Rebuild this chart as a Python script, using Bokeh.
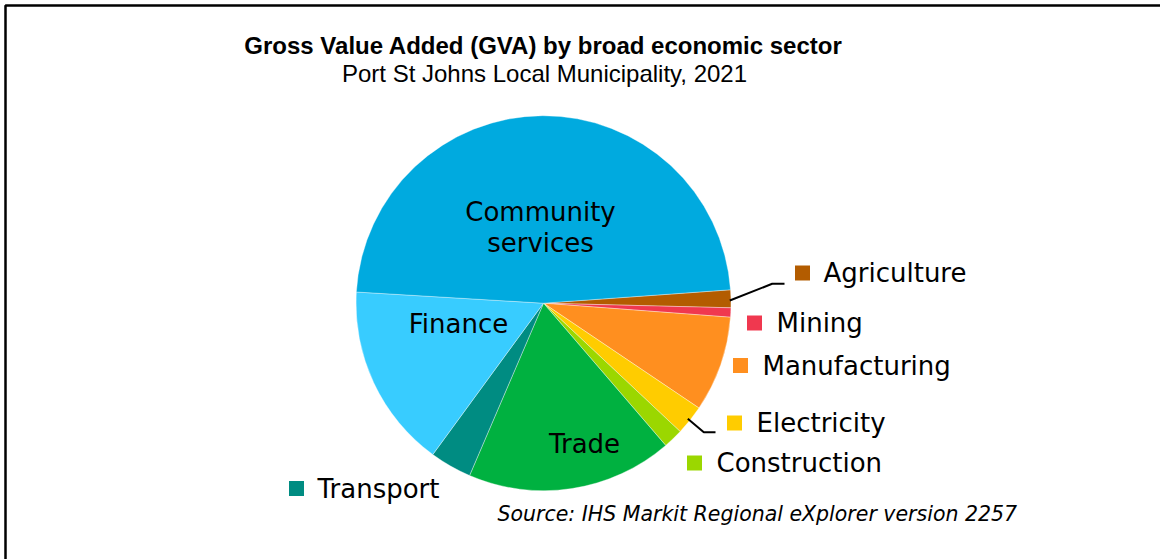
import numpy as np
from bokeh.plotting import figure
from bokeh.models import Range1d, ColumnDataSource
from bokeh.core.properties import value
from bokeh.embed import file_html
from bokeh.resources import INLINE

# ---- data (GVA share, %) ----
sectors = ["Agriculture", "Mining", "Manufacturing", "Electricity", "Construction",
           "Trade", "Transport", "Finance", "Community services"]
shares = [1.53, 0.80, 8.25, 2.56, 1.70, 17.75, 3.60, 15.90, 47.91]
colors = ["#B35C00", "#F0384F", "#FF8F1F", "#FFCC00", "#9BD700",
          "#00B140", "#008C82", "#38CCFF", "#00AADF"]

title_text = "Gross Value Added (GVA) by broad economic sector"
subtitle_text = "Port St Johns Local Municipality, 2021"
source_text = "Source: IHS Markit Regional eXplorer version 2257"

# ---- layout (page pixel space, y measured from the top) ----
W, H = 1160, 559
PAGE_H = 559
def Y(py):
    return PAGE_H - py

cx, cy, r = 543.0, Y(302.7), 187.5
start_deg = 4.1

p = figure(width=W, height=H, x_range=Range1d(0, W), y_range=Range1d(PAGE_H - H, PAGE_H),
           output_backend="svg", toolbar_location=None, min_border=0,
           x_axis_type=None, y_axis_type=None)
p.grid.visible = False
p.outline_line_color = None
p.background_fill_color = "white"
p.border_fill_color = "white"

# wedges (clockwise from start angle)
frac = np.array(shares) / np.sum(shares)
cum = np.cumsum(frac)
a0 = np.deg2rad(start_deg)
ends = a0 - 2 * np.pi * cum
starts = a0 - 2 * np.pi * (cum - frac)
src = ColumnDataSource(dict(sector=sectors, color=colors, s=ends, e=starts))
p.wedge(x=cx, y=cy, radius=r, start_angle="s", end_angle="e", fill_color="color",
        line_color="white", line_width=0.6, line_alpha=0.6, source=src)

# labels inside pie
in_text = ["Community", "services", "Finance", "Trade"]
in_x = [540, 540, 458, 584]
in_y = [Y(211), Y(242), Y(323), Y(443)]
p.text(x=in_x, y=in_y, text=in_text, text_align="center", text_baseline="middle",
       text_font=value("DejaVu Sans"), text_font_size=value("26px"), text_color="#000000")

# outside labels with colour squares
out_idx = [0, 1, 2, 3, 4, 6]
sq_x = [802, 754, 740, 734, 694, 296]
sq_y = [Y(272.5), Y(322.5), Y(365), Y(422.5), Y(462.5), Y(488)]
tx_x = [823, 776, 762, 756, 716, 317]
p.rect(x=sq_x, y=sq_y, width=15, height=15, fill_color=[colors[i] for i in out_idx],
       line_color=None)
p.text(x=tx_x, y=sq_y, text=[sectors[i] for i in out_idx], text_align="left",
       text_baseline="middle", text_font=value("DejaVu Sans"),
       text_font_size=value("26px"), text_color="#000000")

# leader lines
p.multi_line(xs=[[729.3, 771.7, 784], [687.3, 703.3, 715]],
             ys=[[Y(300), Y(283.3), Y(283.3)], [Y(418.3), Y(431.7), Y(431.7)]],
             line_color="black", line_width=2)

# titles and source
p.text(x=[543], y=[Y(45)], text=[title_text], text_align="center", text_baseline="middle",
       text_font=value("Liberation Sans"), text_font_style="bold",
       text_font_size=value("24px"), text_color="#000000")
p.text(x=[544], y=[Y(73)], text=[subtitle_text], text_align="center", text_baseline="middle",
       text_font=value("Liberation Sans"), text_font_size=value("24px"), text_color="#000000")
p.text(x=[497], y=[Y(513)], text=[source_text], text_align="left", text_baseline="middle",
       text_font=value("DejaVu Sans"), text_font_style="italic",
       text_font_size=value("20.5px"), text_color="#000000")

# chart-area border (top and left edges visible)
p.line(x=[5, 5, W], y=[0, Y(5), Y(5)], line_color="black", line_width=2.5)

open("out.html", "w").write(file_html(p, INLINE))
